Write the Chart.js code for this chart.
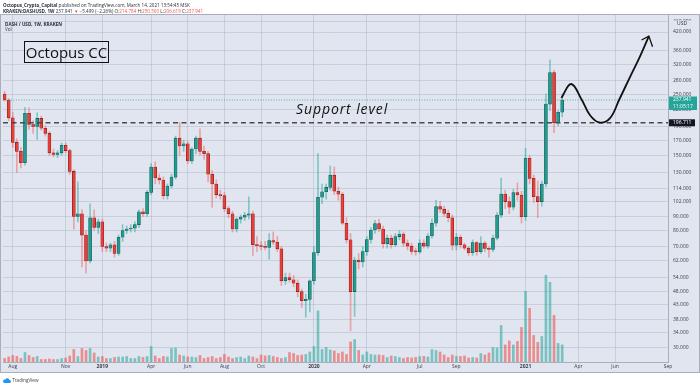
<!DOCTYPE html>
<html><head><meta charset="utf-8">
<script src="https://cdn.jsdelivr.net/npm/chart.js@4.4.1/dist/chart.umd.min.js"></script>
<style>
html,body{margin:0;padding:0;background:#fff;width:700px;height:386px;overflow:hidden;font-family:'Open Sans',Arial,sans-serif}
#wrap{position:relative;width:700px;height:386px}
canvas{position:absolute;left:0;top:0}
.t{position:absolute;white-space:nowrap;font-size:4.6px;line-height:6px;color:#2a2e39}
.r{color:#ef5350}
#occ{position:absolute;left:24px;top:41px;width:83px;height:20px;border:1.5px solid #111;font-size:15px;line-height:20px;color:#111;text-align:center;font-weight:500}
#sup{position:absolute;left:296px;top:99px;font-size:14px;font-style:italic;color:#111;letter-spacing:0.9px;white-space:nowrap;font-weight:500}
</style></head>
<body><div id="wrap">
<canvas id="c" width="700" height="386"></canvas>
<div class="t" style="left:3px;top:2px"><b>Octopus_Crypto_Capital</b> published on TradingView.com, March 14, 2021 13:54:45 MSK</div>
<div class="t" style="left:3px;top:7.5px"><b>KRAKEN:DASHUSD, 1W</b> 237.941 <span class="r">▼</span> −5.499 (−2.26%) O:<span class="r">214.784</span> H:<span class="r">250.500</span> L:<span class="r">206.619</span> C:<span class="r">237.941</span></div>
<div class="t" style="left:5px;top:20.5px"><b>DASH / USD, 1W, KRAKEN</b></div>
<div class="t" style="left:5px;top:25.5px">Vol</div>
<div id="occ">Octopus CC</div>
<div id="sup">Support level</div>
<div class="t" style="left:3px;top:377px;color:#444"><svg width="8" height="5" viewBox="0 0 16 10" style="vertical-align:-1px"><path d="M3 10h10a3 3 0 0 0 0-6 4.5 4.5 0 0 0-8.5-1A3.5 3.5 0 0 0 3 10z" fill="#2196f3"/></svg> TradingView</div>
</div>
<script>
const weekStart = '2018-07-23';
const opens = [250,238,205,167,155,141,213,194,191,204,188,180,153,151,153,163,156,131,90,92,77,62,89,82,86,70,69,71,66,75.6,80,81,81.5,84,93.5,92,110,136,124,122,107,116,125,173,162,165,143,158,173,155,152,128,118,108,107,96,92,81,88,89.5,91,92,71,70.5,70,69.5,73.5,72.5,68.6,52.5,54,53,51.5,48,44.5,45,52.5,66.5,105.6,110.6,114.7,127,111,108.3,85,74,48,62.5,61.5,67,74.2,80.3,84.7,81,71.6,75,71,76,77.7,72,70.2,67.2,66.9,72,70.2,76.4,85,97.6,95.6,92.3,89,70.8,75.6,71,69,66.4,72.3,67,72,68.9,68.3,75,91,108.5,101.8,97.1,109.7,107.6,89.8,146.2,123.7,106.1,101.8,118,230,299,197,214.784];
const highs = [256,241,215,172,160,224,223,200,214,208,192,183,158,156,166,166,158,133,120,95,80,100,95,88,88,72,72,73,77,84,83,84,86,95,96,112,140,142,128,125,118,128,176,197,170,168,160,176,187,162,155,132,122,112,110,98,94,89,91,93,106,94,76,73,73,78,79,76,70,56,56,55,53,49,47,53,70,152,118,118,137,136,115,110,89,78,64,66,70,76,82,87,88,83,77,77,78,80,79,74,72,69,74,74,78,88,103,102,98,95,91,78,77,72,70,74,73,76,73,70,77,93,124,112,106,113,119,111,159,150,127,121,121,250,332,305,218,250.5];
const lows = [236,200,160,130,135,138,186,180,171,185,176,150,148,147,150,153,128,81,86,59,56,61,80,78,67,67,67,64,65,73,78,79,79,82,90,90,108,118,118,104,104,114,123,150,155,140,140,152,150,145,120,97,105,104,94,89,79,79,85,87,88,65,67,68,68,63,71,67,50.5,51,52,50,46,42,38.8,40.5,51,65,100,104,112,108,103,84,72,34.6,39,58,59,65,72,78,79,69,69,69,70,74,70,68,65.5,65,66,69,69,75,83,93,90,86,68,68,69,68,65,65,65,66,67,64,67,74,89,96,92,95,103,85,87,118,101,89,98,115,218,181,192,206.619];
const closes = [238,205,167,155,141,213,194,191,204,188,180,153,151,153,163,156,131,90,92,77,62,89,82,86,70,69,71,66,75.6,80,81,81.5,84,93.5,92,110,136,124,122,107,116,125,173,162,165,143,158,173,155,152,128,118,108,107,96,92,81,88,89.5,91,92,71,70.5,70,69.5,73.5,72.5,68.6,52.5,54,53,51.5,48,44.5,45,52.5,66.5,105.6,110.6,114.7,127,111,108.3,85,74,48,62.5,61.5,67,74.2,80.3,84.7,81,71.6,75,71,76,77.7,72,70.2,67.2,66.9,72,70.2,76.4,85,97.6,95.6,92.3,89,70.8,75.6,71,69,66.4,72.3,67,72,68.9,68.3,75,91,108.5,101.8,97.1,109.7,107.6,89.8,146.2,123.7,106.1,101.8,118,230,299,197,214.784,237.941];
const volumes = [7,10,13,11,7,19,13,9,11,5,5,6,5,5,7,8,12,25,11,27,23,27,18,10,11,7,7,9,10,10,11,7,7,11,9,11,31,12,7,11,10,27,28,14,12,10,10,9,13,7,9,11,7,9,15,10,7,9,10,7,12,10,7,14,12,13,11,9,7,9,19,17,13,14,15,20,31,102,25,29,24,22,17,20,15,40,45,23,14,20,15,14,14,13,9,12,11,9,7,9,8,9,11,11,10,25,23,20,14,9,14,11,11,12,8,9,8,17,14,18,29,28,73,34,42,34,41,69,141,107,53,39,51,173,159,93,37,34];
const priceTicks = [30,34,38,43,48,54,62,70,80,90,102,114,130,150,170,190,220,250,280,320,360,420,460];
const timeTicks = [2,15,24,36,45,54,63,76,89,102,111,128,141,150,163];
const timeTickLabels = ['Aug','Nov','2019','Apr','Jun','Aug','Oct','2020','Apr','Jul','Sep','2021','Apr','Jun','Sep'];
const supportLevel = 196.711;
const lastPrice = 237.941;
const lastTime = '11:05:17';
const forecastWeeks = [136.8,139.2,141.8,143.8,146.1,148.7,151,154.1,156.1,158.3];
const forecastPrices = [242,272,238.5,210,197.3,204,238.5,297.5,341.7,406];
const arrowWeeks = [156.5,158.3,159.2];
const arrowPrices = [393,406,371.5];

const UP='#26a69a', DN='#ef5350', BG='#e1e5ef', GRID='rgba(150,160,185,0.32)';
const up = closes.map((c,i)=>c>=opens[i]);
const idx = closes.map((c,i)=>i);

const bgPlugin = {
  id:'bg',
  beforeDraw(c){const g=c.ctx;g.save();g.fillStyle=BG;g.fillRect(0,14,700,358);g.restore();},
  afterDraw(c){
    const g=c.ctx, y=c.scales.y, a=c.chartArea;
    g.save();
    g.strokeStyle='#a9aeb8';g.lineWidth=1;g.strokeRect(0.5,14.5,699,358);
    g.font='5px "Open Sans"';g.textBaseline='middle';
    const yl=y.getPixelForValue(lastPrice);
    g.fillStyle=UP;g.fillRect(a.right+1,yl-3.5,28,13.5);
    g.fillStyle='#fff';g.fillText(lastPrice.toFixed(3),a.right+5,yl);g.fillText(lastTime,a.right+5,yl+6.5);
    const ys=y.getPixelForValue(supportLevel);
    g.fillStyle='#131722';g.fillRect(a.right+1,ys-3.5,26,7);
    g.fillStyle='#fff';g.fillText(supportLevel.toFixed(3),a.right+5,ys);
    g.fillStyle=BG;g.fillRect(a.right+1,20.5,30,5.5);
    g.fillStyle='#333';g.fillText('USD',a.right+9,23.2);
    g.restore();
  }
};

new Chart(document.getElementById('c'),{
  type:'bar',
  data:{datasets:[
    {type:'line',data:forecastWeeks.map((w,i)=>({x:w,y:forecastPrices[i]})),borderColor:'#111',borderWidth:1.8,tension:0.4,pointRadius:0,order:0},
    {type:'line',data:arrowWeeks.map((w,i)=>({x:w,y:arrowPrices[i]})),borderColor:'#111',borderWidth:1.3,tension:0,pointRadius:0,order:0},
    {type:'line',data:[{x:-0.4,y:supportLevel},{x:163,y:supportLevel}],borderColor:'#4a4a4a',borderWidth:1.4,borderDash:[5,3.5],pointRadius:0,order:0},
    {type:'line',data:[{x:-0.4,y:lastPrice},{x:163,y:lastPrice}],borderColor:UP,borderWidth:0.8,borderDash:[1,1.6],pointRadius:0,order:0},
    {data:idx.map(i=>({x:i,y:[opens[i],closes[i]]})),backgroundColor:up.map(u=>u?'#1f9d91':'#ec3d38'),borderColor:up.map(u=>u?'#0f5750':'#7a1d1b'),borderWidth:0.6,borderSkipped:false,barThickness:3,minBarLength:1,grouped:false,order:1,yAxisID:'y'},
    {data:idx.map(i=>({x:i,y:[lows[i],highs[i]]})),backgroundColor:up.map(u=>u?'rgba(38,166,154,0.5)':'rgba(239,83,80,0.45)'),barThickness:1,grouped:false,order:2,yAxisID:'y'},
    {data:idx.map(i=>({x:i,y:volumes[i]})),backgroundColor:up.map(u=>u?'rgba(38,166,154,0.55)':'rgba(239,83,80,0.6)'),barThickness:2,grouped:false,order:3,yAxisID:'yv'}
  ]},
  options:{
    responsive:false,animation:false,
    layout:{padding:{left:3,top:14,right:0,bottom:14}},
    plugins:{legend:{display:false},tooltip:{enabled:false}},
    scales:{
      x:{type:'linear',min:-0.4,max:163,offset:false,
        grid:{color:GRID,drawTicks:false,offset:false},border:{color:'#a9aeb8'},
        afterBuildTicks:s=>{s.ticks=timeTicks.map(v=>({value:v}));},
        afterFit:s=>{s.height=10;},
        ticks:{autoSkip:false,maxRotation:0,padding:2,color:'#3a3e48',
          font:c=>({size:5,family:'"Open Sans"',weight:/^\d/.test(timeTickLabels[timeTicks.indexOf(c.tick&&c.tick.value)]||'')?'bold':'normal'}),
          callback:v=>timeTickLabels[timeTicks.indexOf(v)]}},
      y:{type:'logarithmic',position:'right',min:26.66,max:488.2,
        grid:{color:GRID,drawTicks:false},border:{color:'#a9aeb8'},
        afterBuildTicks:s=>{s.ticks=priceTicks.map(v=>({value:v}));},
        afterFit:s=>{s.width=32;},
        ticks:{padding:5,color:'#3a3e48',font:{size:5,family:'"Open Sans"'},callback:v=>Number(v).toFixed(3)}},
      yv:{type:'linear',display:false,min:0,max:694}
    }
  },
  plugins:[bgPlugin]
});
</script>
</body></html>
